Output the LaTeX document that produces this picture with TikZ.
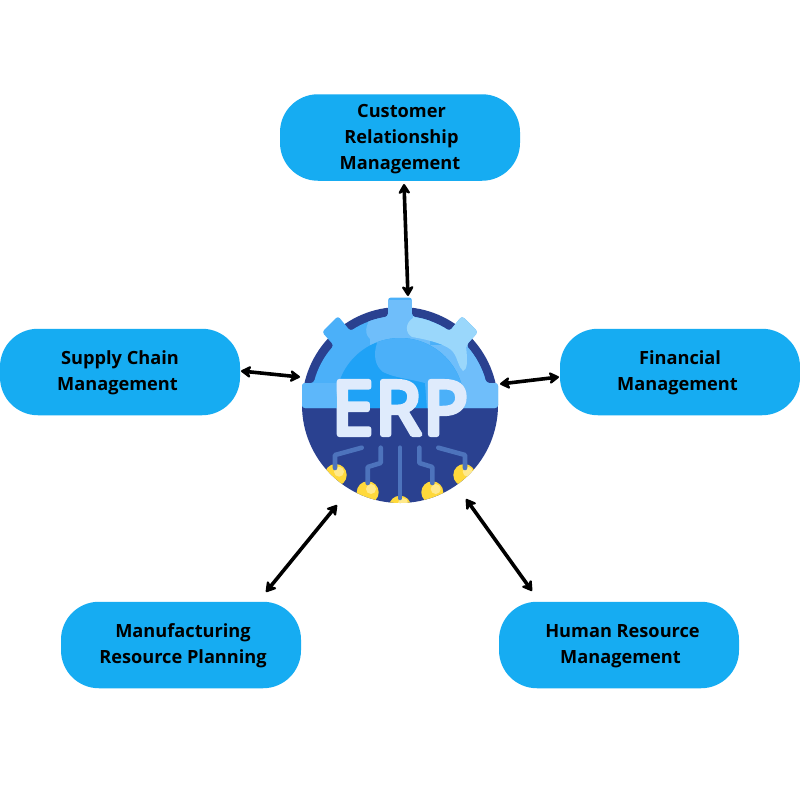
\documentclass[tikz,border=0pt]{standalone}
\usepackage{fontspec}
\setmainfont{Open Sans}
\newfontfamily\erpfont[FakeBold=7,LetterSpace=3]{Open Sans}
\usetikzlibrary{arrows.meta,calc}
\definecolor{boxblue}{HTML}{16ACF2}
\definecolor{navy}{HTML}{2A4190}
\definecolor{gearbase}{HTML}{4BB0F9}
\definecolor{gearmid}{HTML}{6FBEFA}
\definecolor{gearlight}{HTML}{9AD7FB}
\definecolor{domedark}{HTML}{1FA2F6}
\definecolor{bandleft}{HTML}{5DB7FA}
\definecolor{letter}{HTML}{DFEBFC}
\definecolor{circuit}{HTML}{4D73BC}
\definecolor{dotyellow}{HTML}{FFD93B}
\definecolor{dotlight}{HTML}{FFE98C}
\newcommand{\boxlines}[1]{\raisebox{-0.5pt}[\height][\depth]{\begin{tabular}{@{}c@{}}#1\end{tabular}}}
\tikzset{
  modulebox/.style={fill=boxblue,rounded corners=38pt,minimum width=240pt,minimum height=86.5pt,
    inner sep=0pt,text=black,font=\fontsize{18.2}{26}\selectfont\bfseries},
  link/.style={line width=3.6pt,black,{Stealth[length=12pt,width=14.5pt,inset=3.5pt,round]}-{Stealth[length=12pt,width=14.5pt,inset=3.5pt,round]}},
  trace/.style={circuit,line width=4.6pt,line cap=round,line join=round},
}
\newcommand{\gearoutline}{
  (302,408) -- (302,383) -- ($(gc)+(165.7:89pt)$) arc[start angle=165.7,end angle=138,radius=89pt]
  -- (322,332) -- (338,316) -- ($(gc)+(123.9:89pt)$) arc[start angle=123.9,end angle=97.7,radius=89pt]
  -- (388,297.5) -- (412,297.5) -- ($(gc)+(82.3:89pt)$) arc[start angle=82.3,end angle=56.1,radius=89pt]
  -- (462,316) -- (478,332) -- ($(gc)+(42:89pt)$) arc[start angle=42,end angle=14.3,radius=89pt]
  -- (498,383) -- (498,408) -- cycle
}
\begin{document}
\begin{tikzpicture}[x=1pt,y=-1pt]
\useasboundingbox (0,0) rectangle (800,800);
\fill[white] (0,0) rectangle (800,800);
\coordinate (gc) at (400,405);

% icon
\fill[navy] (gc) circle[radius=98pt];
\begin{scope}
  \clip (gc) circle[radius=98pt];
  \foreach \x/\y in {335.7/475,367.7/492.3,432.3/492.3,464.3/475,400/506.7}
    \fill[dotyellow] (\x,\y) circle[radius=11pt];
  \foreach \x/\y in {339/471.7,371/489,435.7/489,467.7/471.7,403/503}
    \fill[dotlight] (\x,\y) circle[radius=5pt];
\end{scope}
\draw[trace] (361.7,447.7) -- (335,455) -- (335,468);
\draw[trace] (380.7,447.7) -- (380.7,463) -- (367.7,467) -- (367.7,483);
\draw[trace] (400,447.7) -- (400,498);
\draw[trace] (419.3,447.7) -- (419.3,463) -- (432.3,467) -- (432.3,483);
\draw[trace] (438.3,447.7) -- (465,455) -- (465,468);

\fill[gearbase,rounded corners=3pt] \gearoutline;
\begin{scope}
  \clip[rounded corners=3pt] \gearoutline;
  \fill[bandleft] (300,383) rectangle (350,410);
  \fill[gearmid] (370,300) -- (368,323) .. controls (364,332) and (366,340) .. (380,344)
     -- (400,345) -- (500,345) -- (500,410) -- (430,410) -- (430,300) -- cycle;
  \fill[gearmid] (370,300) rectangle (430,345);
  \fill[gearlight] (413,300) -- (413,318) .. controls (405,323) and (405,333) .. (412,337)
     .. controls (430,340) and (448,345) .. (453,352)
     .. controls (458,358) and (458,367) .. (463,371)
     .. controls (467,370) and (468,362) .. (466,347)
     -- (485,330) -- (470,300) -- cycle;
  \begin{scope}
    \clip (300,300) rectangle (500,408);
    \clip (400,402) circle[radius=64pt];
    \fill[domedark] (330,330) rectangle (470,410);
    \fill[gearbase] (377,330) -- (377,343) .. controls (373,355) and (375,366) .. (383,372)
      .. controls (395,378) and (410,379) .. (425,383) -- (427,410) -- (480,410) -- (480,330) -- cycle;
  \end{scope}
\end{scope}
\node[text=letter,font=\fontsize{74}{74}\erpfont\selectfont,inner sep=0pt] (erp) at (400,408)
  {\special{pdf:code 1 j 1 J}ERP\special{pdf:code 0 j 0 J}};

% boxes
\node[modulebox] (crm) at (400,137.5) {\boxlines{\hspace*{3pt}Customer\\\hspace*{3pt}Relationship\\Management}};
\node[modulebox] (scm) at (120,372) {\boxlines{Supply Chain\\Management\hspace*{5pt}}};
\node[modulebox] (fin) at (680,372) {\boxlines{Financial\\Management\hspace*{5pt}}};
\node[modulebox] (mrp) at (181,645) {\boxlines{\hspace*{4pt}Manufacturing\\\hspace*{4pt}Resource Planning}};
\node[modulebox] (hrm) at (619,645) {\boxlines{\hspace*{7pt}Human Resource\\\hspace*{3pt}Management}};

% connector ends
\coordinate (a1) at (404,184); \coordinate (a2) at (408,296);
\coordinate (b1) at (241,371); \coordinate (b2) at (300,377);
\coordinate (c1) at (500,384); \coordinate (c2) at (559,377);
\coordinate (d1) at (266,592); \coordinate (d2) at (337,505);
\coordinate (e1) at (532,591); \coordinate (e2) at (466,499);
\draw[link] (a1) -- (a2);
\draw[link] (b1) -- (b2);
\draw[link] (c1) -- (c2);
\draw[link] (d1) -- (d2);
\draw[link] (e1) -- (e2);
\end{tikzpicture}
\end{document}
